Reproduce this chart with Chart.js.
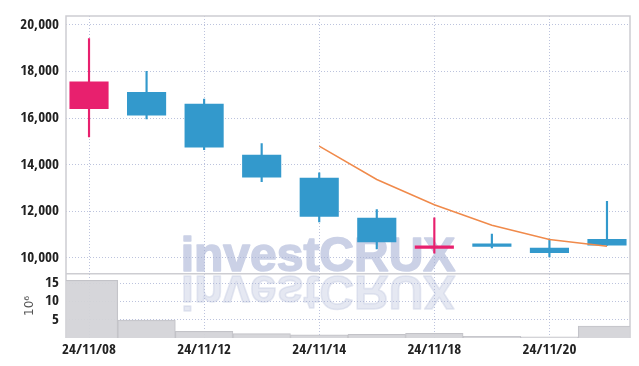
<!DOCTYPE html>
<html>
<head>
<meta charset="utf-8">
<script src="https://cdn.jsdelivr.net/npm/chart.js@4.4.1/dist/chart.umd.min.js"></script>
<style>
  html, body { margin: 0; padding: 0; background: #fff; }
  #wrap { position: relative; width: 639px; height: 366px; }
</style>
</head>
<body>
<div id="wrap"><canvas id="chart"></canvas></div>
<script>
// daily candles 2024/11/08 - 2024/11/21
const dates  = ['24/11/08', '24/11/11', '24/11/12', '24/11/13', '24/11/14',
                '24/11/15', '24/11/18', '24/11/19', '24/11/20', '24/11/21'];
const opens  = [16395, 17122, 16618, 14430, 13437, 11725, 10391, 10618, 10433, 10812];
const closes = [17573, 16113, 14741, 13450, 11767, 10673, 10534, 10476, 10210, 10534];
const highs  = [19411, 18006, 16815, 14910, 13647, 12074, 11725, 11022, 10812, 12427];
const lows   = [15187, 15961, 14640, 13269, 11544, 10391, 10210, 10433, 10042, 10534];
// moving average, empty for the first days
const ma5    = [null, null, null, null, 14796, 13366, 12285, 11401, 10787, 10505];
// volume in millions (10^6)
const volumes = [15.8, 4.9, 1.8, 1.2, 0.9, 1.0, 1.3, 0.45, 0.3, 3.3];

const xTickIdx   = [0, 2, 4, 6, 8];
const priceTicks = [10000, 12000, 14000, 16000, 18000, 20000];
const volTicks   = [5, 10, 15];

const UP = '#E8206E';
const DOWN = '#3399CC';
const gridColor = 'rgba(165,175,210,0.75)';
const tickFont = { family: '"Open Sans Condensed", "Open Sans", sans-serif', size: 15, weight: 'bold' };

const candleColors = opens.map((o, i) => closes[i] >= o ? UP : DOWN);
const idx = dates.map((d, i) => i);

// big "investCRUX" mark with a faded mirror under it
const watermark = {
    id: 'watermark',
    beforeDraw(chart) {
        const ctx = chart.ctx;
        const sep = chart.scales.y.bottom;
        const put = (color) => {
            ctx.fillStyle = color;
            ctx.strokeStyle = color;
            ctx.fillText('investCRUX', 318, sep - 2.5);
            ctx.strokeText('investCRUX', 318, sep - 2.5);
        };
        ctx.save();
        ctx.font = 'normal bold 48px "Liberation Sans", Arial, sans-serif';
        ctx.textAlign = 'center';
        ctx.textBaseline = 'alphabetic';
        ctx.lineWidth = 1.6;
        ctx.lineJoin = 'round';
        put('rgb(203,209,230)');
        ctx.translate(0, 2 * sep);
        ctx.scale(1, -1);
        put('rgba(203,209,230,0.5)');
        ctx.restore();
    }
};

// frame round the plot and the line between price and volume
const frame = {
    id: 'frame',
    beforeDatasetsDraw(chart) {
        const ctx = chart.ctx;
        const a = chart.chartArea;
        const sep = chart.scales.y.bottom;
        ctx.save();
        ctx.strokeStyle = 'rgb(205,205,210)';
        ctx.lineWidth = 1.5;
        ctx.beginPath();
        ctx.moveTo(a.left, a.bottom);
        ctx.lineTo(a.left, a.top);
        ctx.lineTo(a.right, a.top);
        ctx.lineTo(a.right, a.bottom);
        ctx.moveTo(a.left, sep);
        ctx.lineTo(a.right, sep);
        ctx.stroke();
        ctx.restore();
    }
};

const ctx = document.getElementById('chart').getContext('2d');
const chart = new Chart(ctx, {
    type: 'bar',
    data: {
        datasets: [
            {
                // wicks
                data: idx.map(i => ({ x: i, y: [lows[i], highs[i]] })),
                backgroundColor: candleColors,
                barThickness: 1.5,
                grouped: false,
                yAxisID: 'y',
                order: 2
            },
            {
                // bodies
                data: idx.map(i => ({ x: i, y: [opens[i], closes[i]] })),
                backgroundColor: candleColors,
                barPercentage: 0.68,
                categoryPercentage: 1,
                grouped: false,
                yAxisID: 'y',
                order: 1
            },
            {
                type: 'line',
                data: idx.map(i => ({ x: i, y: ma5[i] })),
                borderColor: '#F08A4B',
                borderWidth: 1.5,
                pointRadius: 0,
                fill: false,
                yAxisID: 'y',
                order: 0
            },
            {
                data: idx.map(i => ({ x: i, y: volumes[i] })),
                backgroundColor: 'rgba(212,212,216,0.95)',
                borderColor: 'rgb(195,195,200)',
                borderWidth: 1,
                barPercentage: 1,
                categoryPercentage: 1,
                grouped: false,
                yAxisID: 'yv',
                order: 3
            }
        ]
    },
    options: {
        responsive: true,
        maintainAspectRatio: false,
        animation: false,
        layout: { padding: { top: 9, right: 9, left: 0, bottom: 0 } },
        plugins: {
            legend: { display: false },
            tooltip: { enabled: false }
        },
        scales: {
            x: {
                type: 'linear',
                offset: false,
                min: -0.4,
                max: 9.4,
                afterBuildTicks: s => { s.ticks = xTickIdx.map(v => ({ value: v })); },
                afterFit: s => { s.height = 28; },
                ticks: {
                    callback: v => dates[v],
                    font: tickFont,
                    color: '#222',
                    padding: 3,
                    maxRotation: 0,
                    autoSkip: false
                },
                grid: { color: gridColor, drawTicks: false, offset: false },
                border: { display: false, dash: [1, 2] }
            },
            // volume pane listed first so it ends up under the price pane
            yv: {
                position: 'left',
                stack: 'panes',
                stackWeight: 65.5,
                min: 0,
                max: 17.6,
                afterBuildTicks: s => { s.ticks = volTicks.map(v => ({ value: v })); },
                afterFit: s => { s.width = 66; },
                ticks: {
                    font: tickFont,
                    color: '#222',
                    padding: 7,
                    autoSkip: false
                },
                title: {
                    display: true,
                    text: '10⁶',
                    color: '#555',
                    font: { family: '"DejaVu Sans", sans-serif', size: 12 },
                    padding: { top: 23, bottom: 0 }
                },
                grid: { color: gridColor, drawTicks: false },
                border: { display: false, dash: [1, 2] }
            },
            y: {
                position: 'left',
                stack: 'panes',
                stackWeight: 263,
                min: 9320,
                max: 20380,
                afterBuildTicks: s => { s.ticks = priceTicks.map(v => ({ value: v })); },
                afterFit: s => { s.width = 66; },
                ticks: {
                    callback: v => v.toLocaleString('en-US'),
                    font: tickFont,
                    color: '#222',
                    padding: 7,
                    autoSkip: false
                },
                grid: { color: gridColor, drawTicks: false },
                border: { display: false, dash: [1, 2] }
            }
        }
    },
    plugins: [watermark, frame]
});
</script>
</body>
</html>
